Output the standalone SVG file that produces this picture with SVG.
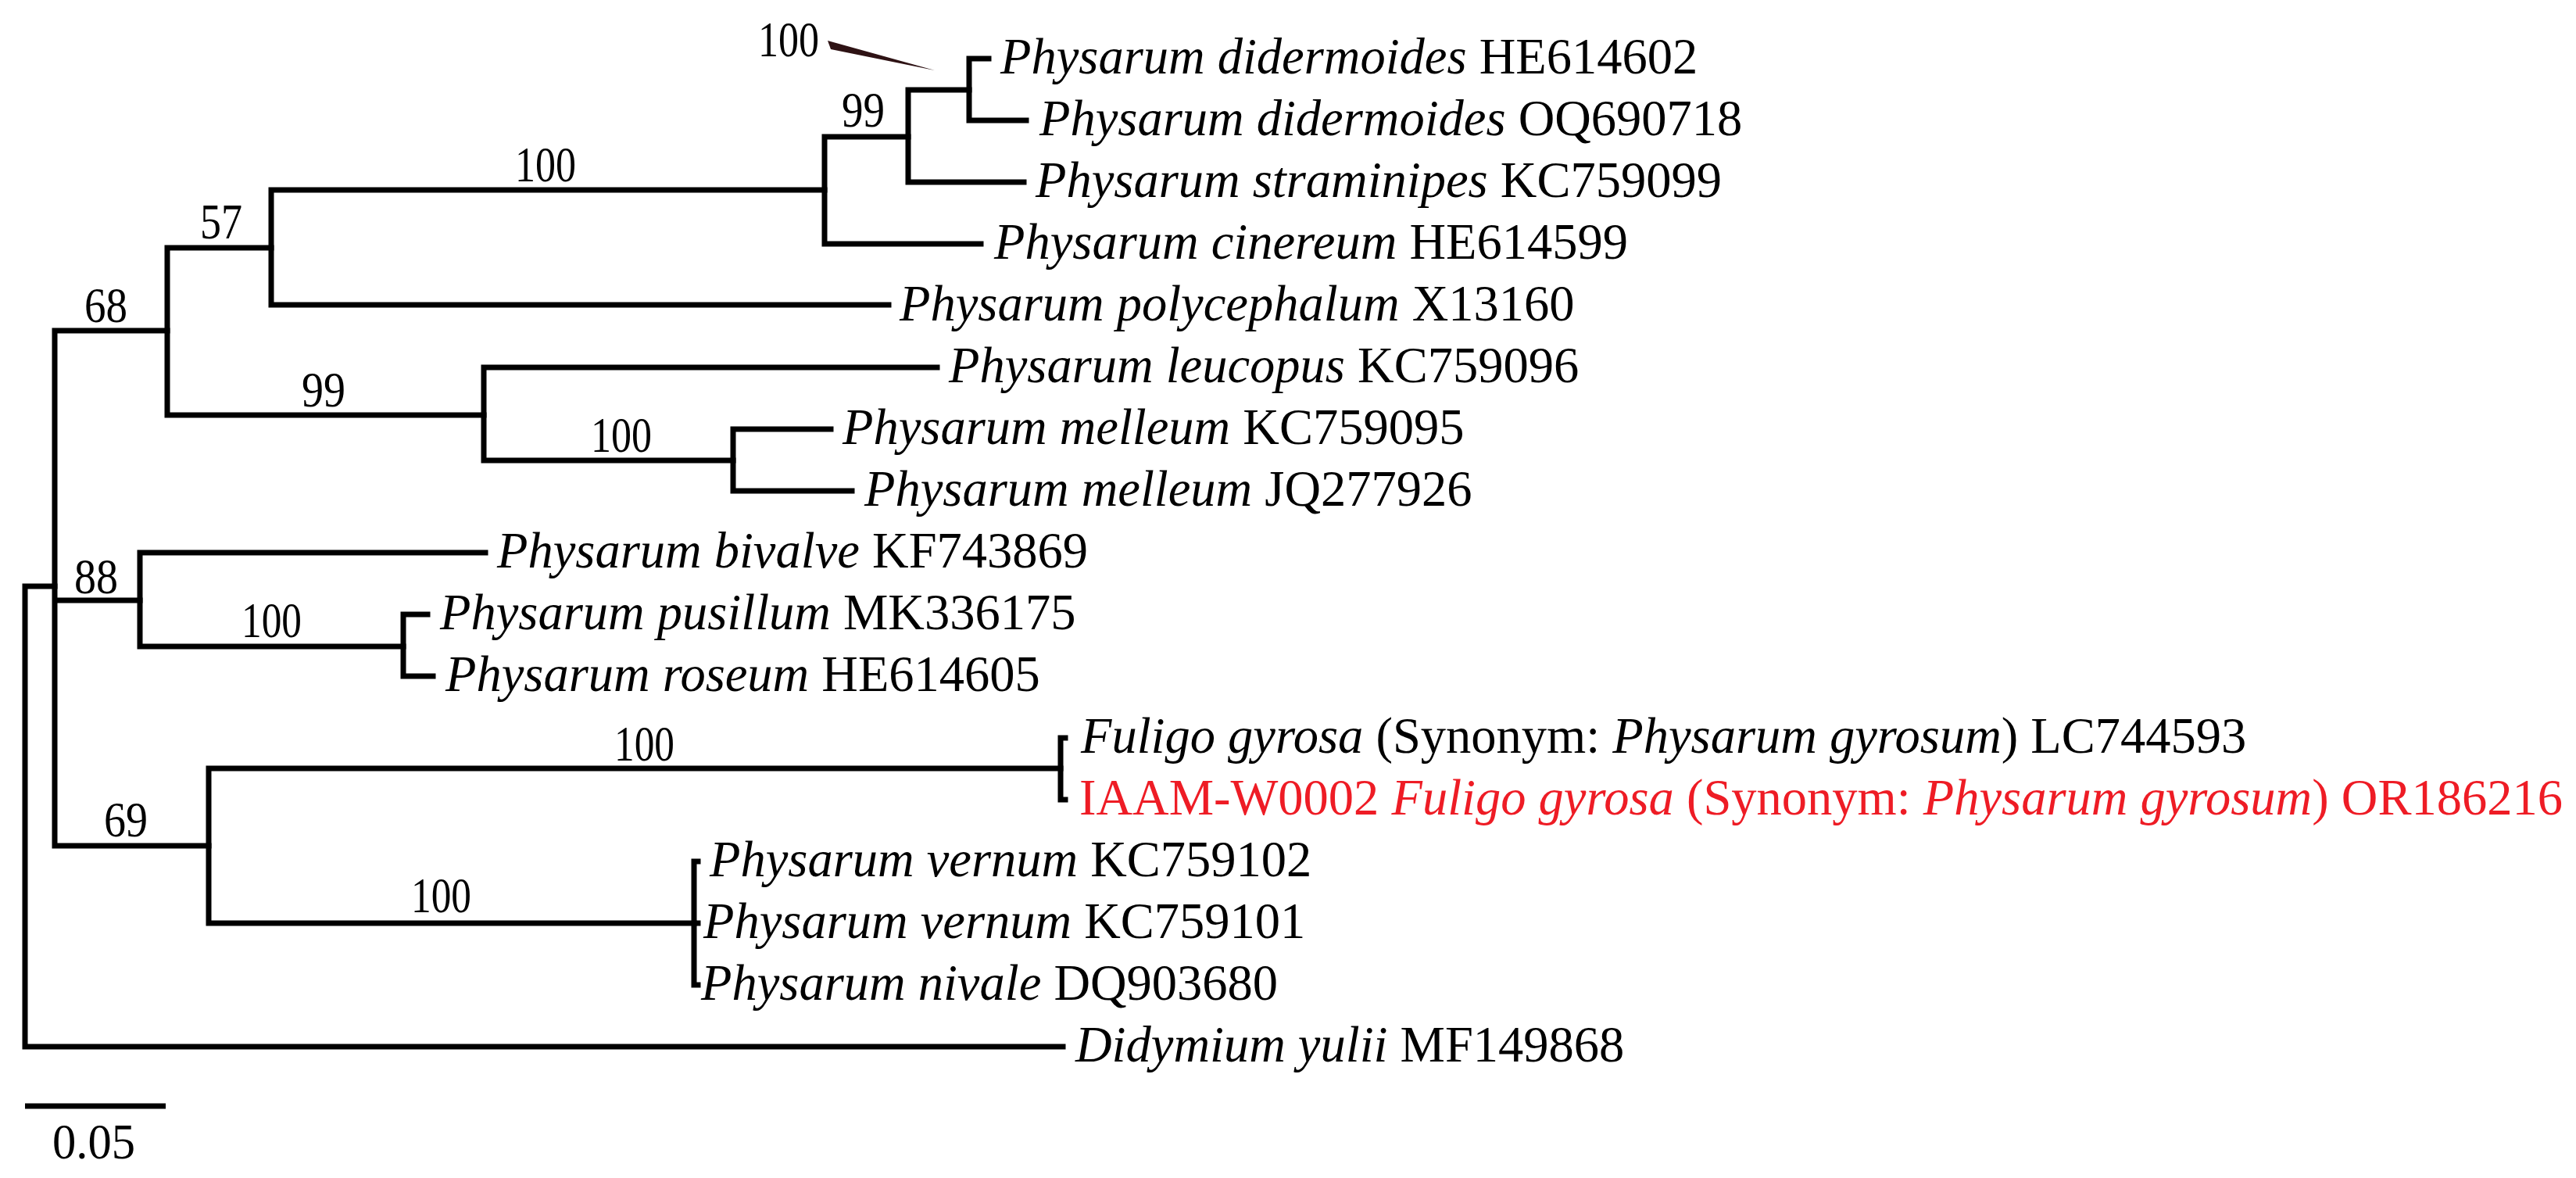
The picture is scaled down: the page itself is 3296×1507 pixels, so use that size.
<svg xmlns="http://www.w3.org/2000/svg" width="3296" height="1507" viewBox="0 0 3296 1507">
<style>
.br{fill:none;stroke:#000;stroke-width:7;stroke-linecap:square;stroke-linejoin:miter}
.lf{font-family:"Liberation Serif","Times New Roman",serif;font-size:64.5px;fill:#000}
.red{fill:#ee1c25}
.it{font-style:italic}
.bs{font-family:"Liberation Serif","Times New Roman",serif;font-size:64px;fill:#000}
</style>
<rect width="3296" height="1507" fill="#fff"/>
<g id="connectors">
<path class="br" d="M70 750 H32 V1339 H1360"/>
<path class="br" d="M214 423 H70 V1082 H267 M70 768 H179"/>
<path class="br" d="M347 317 H214 V531 H619"/>
<path class="br" d="M1055 243 H347 V390 H1137"/>
<path class="br" d="M1162 175 H1055 V312 H1255"/>
<path class="br" d="M1240 115 H1162 V233 H1310"/>
<path class="br" d="M1265 75 H1240 V154 H1313"/>
<path class="br" d="M1199 470 H619 V589 H938"/>
<path class="br" d="M1063 549 H938 V628 H1090"/>
<path class="br" d="M621 707 H179 V827 H516"/>
<path class="br" d="M547 786 H516 V865 H554"/>
<path class="br" d="M1357 983 H267 V1181 H888"/>
<path class="br" d="M1363 944 H1357 V1023 H1363"/>
<path class="br" d="M893 1102 H888 V1260 H893 M888 1181 H893"/>
<polygon points="1059,52 1063,63 1196,90" fill="#2e1214"/>
<line x1="32" y1="1415" x2="212" y2="1415" stroke="#000" stroke-width="7"/>
</g>
<g id="support">
<text class="bs" x="970" y="72" textLength="78" lengthAdjust="spacingAndGlyphs">100</text>
<text class="bs" x="1077" y="162" textLength="55" lengthAdjust="spacingAndGlyphs">99</text>
<text class="bs" x="659" y="232" textLength="78" lengthAdjust="spacingAndGlyphs">100</text>
<text class="bs" x="256" y="305" textLength="54" lengthAdjust="spacingAndGlyphs">57</text>
<text class="bs" x="108" y="412" textLength="55" lengthAdjust="spacingAndGlyphs">68</text>
<text class="bs" x="386" y="520" textLength="56" lengthAdjust="spacingAndGlyphs">99</text>
<text class="bs" x="756" y="578" textLength="78" lengthAdjust="spacingAndGlyphs">100</text>
<text class="bs" x="95" y="759" textLength="56" lengthAdjust="spacingAndGlyphs">88</text>
<text class="bs" x="309" y="815" textLength="77" lengthAdjust="spacingAndGlyphs">100</text>
<text class="bs" x="786" y="973" textLength="77" lengthAdjust="spacingAndGlyphs">100</text>
<text class="bs" x="133" y="1070" textLength="56" lengthAdjust="spacingAndGlyphs">69</text>
<text class="bs" x="526" y="1167" textLength="77" lengthAdjust="spacingAndGlyphs">100</text>
<text class="bs" x="67" y="1482" textLength="106" lengthAdjust="spacingAndGlyphs">0.05</text>
</g>
<g id="leaf-HE614602"><text class="lf" x="1280" y="94"><tspan class="it">Physarum didermoides</tspan> HE614602</text></g>
<g id="leaf-OQ690718"><text class="lf" x="1330" y="173"><tspan class="it">Physarum didermoides</tspan> OQ690718</text></g>
<g id="leaf-KC759099"><text class="lf" x="1325" y="252"><tspan class="it">Physarum straminipes</tspan> KC759099</text></g>
<g id="leaf-HE614599"><text class="lf" x="1272" y="331"><tspan class="it">Physarum cinereum</tspan> HE614599</text></g>
<g id="leaf-X13160"><text class="lf" x="1151" y="410"><tspan class="it">Physarum polycephalum</tspan> X13160</text></g>
<g id="leaf-KC759096"><text class="lf" x="1214" y="489"><tspan class="it">Physarum leucopus</tspan> KC759096</text></g>
<g id="leaf-KC759095"><text class="lf" x="1078" y="568"><tspan class="it">Physarum melleum</tspan> KC759095</text></g>
<g id="leaf-JQ277926"><text class="lf" x="1106" y="647"><tspan class="it">Physarum melleum</tspan> JQ277926</text></g>
<g id="leaf-KF743869"><text class="lf" x="636" y="726"><tspan class="it">Physarum bivalve</tspan> KF743869</text></g>
<g id="leaf-MK336175"><text class="lf" x="563" y="805"><tspan class="it">Physarum pusillum</tspan> MK336175</text></g>
<g id="leaf-HE614605"><text class="lf" x="570" y="884"><tspan class="it">Physarum roseum</tspan> HE614605</text></g>
<g id="leaf-LC744593"><text class="lf" x="1383" y="963"><tspan class="it">Fuligo gyrosa</tspan> (Synonym: <tspan class="it">Physarum gyrosum</tspan>) LC744593</text></g>
<g id="leaf-OR186216"><text class="lf red" x="1381" y="1042">IAAM-W0002 <tspan class="it">Fuligo gyrosa</tspan> (Synonym: <tspan class="it">Physarum gyrosum</tspan>) OR186216</text></g>
<g id="leaf-KC759102"><text class="lf" x="908" y="1121"><tspan class="it">Physarum vernum</tspan> KC759102</text></g>
<g id="leaf-KC759101"><text class="lf" x="900" y="1200"><tspan class="it">Physarum vernum</tspan> KC759101</text></g>
<g id="leaf-DQ903680"><text class="lf" x="897" y="1279"><tspan class="it">Physarum nivale</tspan> DQ903680</text></g>
<g id="leaf-MF149868"><text class="lf" x="1376" y="1358"><tspan class="it">Didymium yulii</tspan> MF149868</text></g>
</svg>
